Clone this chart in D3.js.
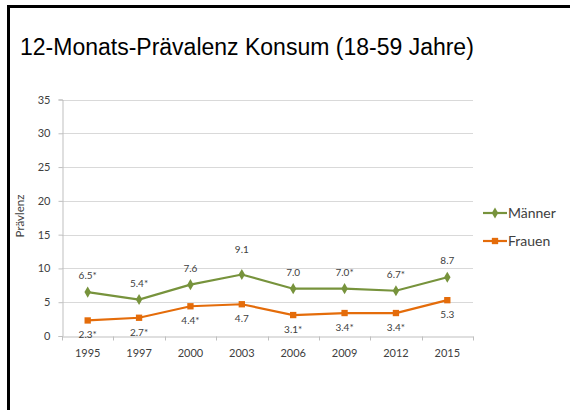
<!DOCTYPE html>
<html>
<head>
<meta charset="utf-8">
<script src="https://cdn.jsdelivr.net/npm/d3@7"></script>
<style>
  body { margin: 0; background: #fff; }
  svg { display: block; }
</style>
</head>
<body>
<div id="chart"></div>
<script>
// data
var years = ['1995', '1997', '2000', '2003', '2006', '2009', '2012', '2015']
var maenner = [6.5, 5.4, 7.6, 9.1, 7.0, 7.0, 6.7, 8.7]
var frauen = [2.3, 2.7, 4.4, 4.7, 3.1, 3.4, 3.4, 5.3]
// star = value marked with * in the picture
var maennerStar = [true, true, false, false, false, true, true, false]
var frauenStar = [true, true, true, false, true, true, true, false]
var yTicks = [0, 5, 10, 15, 20, 25, 30, 35]

var width = 570
var height = 410
var green = '#77933c'
var orange = '#e46c0a'
var font = 'Lato, "Open Sans", sans-serif'

var svg = d3.select('#chart').append('svg')
    .attr('width', width)
    .attr('height', height)

// black frame (only top and left edges are visible)
svg.append('path')
    .attr('d', 'M8.5,' + height + 'V6.5H' + width)
    .attr('fill', 'none')
    .attr('stroke', '#000')
    .attr('stroke-width', 3)

svg.append('text')
    .attr('x', 20)
    .attr('y', 55)
    .style('font-family', '"Liberation Sans", Arial, sans-serif')
    .style('font-size', '23px')
    .attr('fill', '#000')
    .text('12-Monats-Prävalenz Konsum (18-59 Jahre)')

// plot area
var x = d3.scaleBand().domain(years).range([62, 473])
var y = d3.scaleLinear().domain([0, 35]).range([336, 99.5])

// gridlines
svg.append('g')
    .selectAll('line')
    .data(yTicks.slice(1))
    .enter()
    .append('line')
    .attr('x1', 62)
    .attr('x2', 473)
    .attr('y1', function (d) { return Math.round(y(d)) + 0.5 })
    .attr('y2', function (d) { return Math.round(y(d)) + 0.5 })
    .attr('stroke', '#d9d9d9')
    .attr('stroke-width', 1)

// y axis
var yAxis = svg.append('g')
    .attr('transform', 'translate(62.5,0)')
    .call(d3.axisLeft(y).tickValues(yTicks).tickSize(4).tickPadding(8))
yAxis.select('.domain').attr('stroke', '#bfbfbf')
yAxis.selectAll('.tick line').attr('stroke', '#bfbfbf')
yAxis.selectAll('text')
    .style('font-family', font)
    .style('font-size', '11px')
    .attr('fill', '#404040')

// x axis with ticks between categories
var xAxis = svg.append('g')
    .attr('transform', 'translate(0,' + (Math.round(y(0)) + 0.5) + ')')
    .call(d3.axisBottom(x).tickSize(0).tickPadding(13))
xAxis.select('.domain').attr('stroke', '#bfbfbf')
xAxis.selectAll('text')
    .style('font-family', font)
    .style('font-size', '11px')
    .attr('fill', '#404040')
xAxis.selectAll('.sep')
    .data(d3.range(years.length + 1))
    .enter()
    .append('line')
    .attr('x1', function (i) { return Math.round(x.range()[0] + i * x.step()) + 0.5 })
    .attr('x2', function (i) { return Math.round(x.range()[0] + i * x.step()) + 0.5 })
    .attr('y1', 0)
    .attr('y2', 4)
    .attr('stroke', '#bfbfbf')

// axis title
svg.append('text')
    .attr('transform', 'translate(24,216) rotate(-90)')
    .attr('text-anchor', 'middle')
    .style('font-family', font)
    .style('font-size', '11.5px')
    .attr('fill', '#404040')
    .text('Prävlenz')

function cx(i) { return x(years[i]) + x.bandwidth() / 2 }

var line = d3.line()
    .x(function (d, i) { return cx(i) })
    .y(function (d) { return y(d) })

function drawSeries(values, stars, color, symbolType, symbolSize, labelDy) {
    var g = svg.append('g')
    g.append('path')
        .datum(values)
        .attr('d', line)
        .attr('fill', 'none')
        .attr('stroke', color)
        .attr('stroke-width', 2.2)
    g.selectAll('.mark')
        .data(values)
        .enter()
        .append('path')
        .attr('d', d3.symbol().type(symbolType).size(symbolSize))
        .attr('transform', function (d, i) { return 'translate(' + cx(i) + ',' + y(d) + ')' })
        .attr('fill', color)
    g.selectAll('.lbl')
        .data(values)
        .enter()
        .append('text')
        .attr('x', function (d, i) { return cx(i) })
        .attr('y', function (d, i) { return y(d) + labelDy(i) })
        .attr('text-anchor', 'middle')
        .style('font-family', font)
        .style('font-size', '10px')
        .attr('fill', '#404040')
        .text(function (d, i) { return d.toFixed(1) + (stars[i] ? '*' : '') })
}

// the 2003 label of Männer sits higher in the original
drawSeries(maenner, maennerStar, green, d3.symbolDiamond, 36, function (i) { return i == 3 ? -22 : -13 })
drawSeries(frauen, frauenStar, orange, d3.symbolSquare, 40, function () { return 18 })

// legend
var legend = [['Männer', green, d3.symbolDiamond, 36], ['Frauen', orange, d3.symbolSquare, 40]]
legend.forEach(function (item, i) {
    var ly = 213 + i * 28
    svg.append('line')
        .attr('x1', 483).attr('x2', 507)
        .attr('y1', ly).attr('y2', ly)
        .attr('stroke', item[1])
        .attr('stroke-width', 2.2)
    svg.append('path')
        .attr('d', d3.symbol().type(item[2]).size(item[3]))
        .attr('transform', 'translate(495,' + ly + ')')
        .attr('fill', item[1])
    svg.append('text')
        .attr('x', 508)
        .attr('y', ly + 5)
        .style('font-family', font)
        .style('font-size', '14px')
        .attr('fill', '#404040')
        .text(item[0])
})
</script>
</body>
</html>
